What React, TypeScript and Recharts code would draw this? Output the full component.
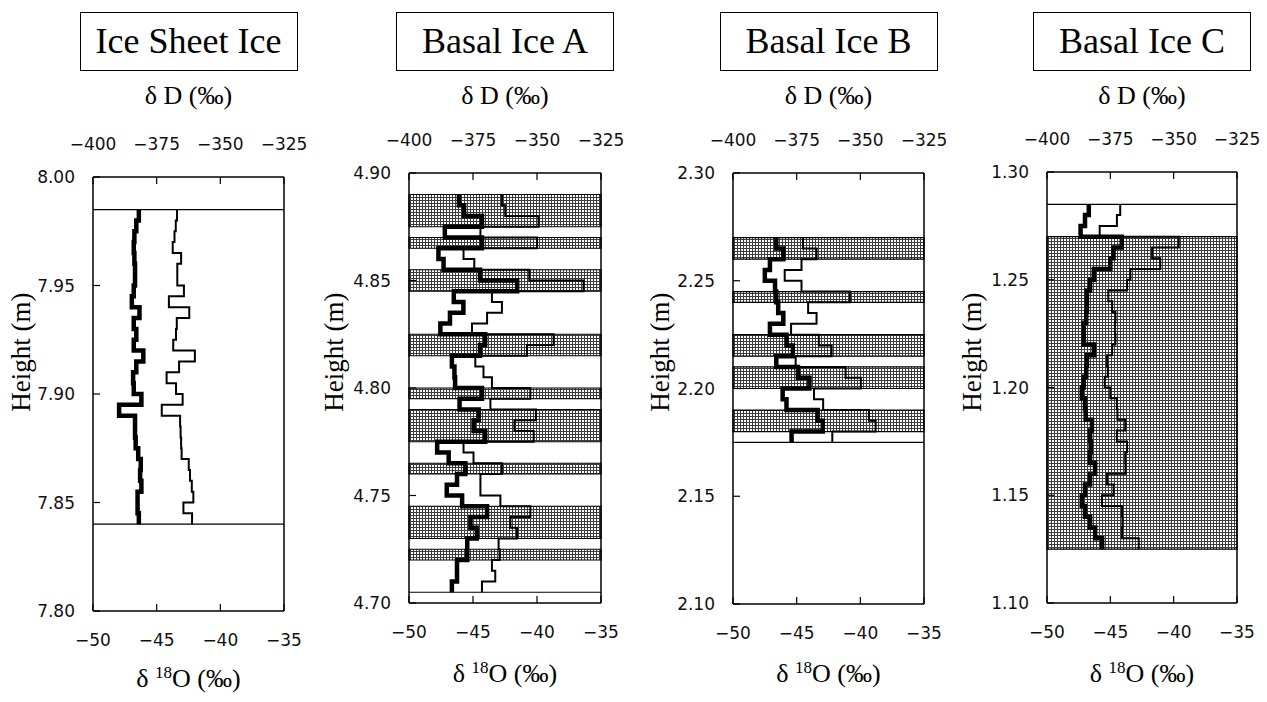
import React from 'react';
import {
  ComposedChart,
  Line,
  XAxis,
  YAxis,
  ReferenceArea,
  ReferenceLine,
} from 'recharts';

const serif = "'Liberation Serif', 'Times New Roman', serif";
const sans = "'DejaVu Sans', 'Liberation Sans', Arial, sans-serif";

const o18Ticks = [-50, -45, -40, -35];
const dDTicks = [-400, -375, -350, -325];

// Ice Sheet Ice
const sheetDepths = [
  7.985, 7.98, 7.975, 7.97, 7.965, 7.96, 7.955, 7.95, 7.945, 7.94, 7.935, 7.93,
  7.925, 7.92, 7.915, 7.91, 7.905, 7.9, 7.895, 7.89, 7.885, 7.88, 7.875, 7.87,
  7.865, 7.86, 7.855, 7.85, 7.845, 7.84,
];
const sheetO18 = [
  -46.4, -46.6, -46.75, -46.8, -46.75, -46.7, -46.7, -46.8, -46.95, -46.35,
  -46.8, -46.6, -46.8, -46.05, -46.6, -46.85, -46.8, -46.2, -47.95, -46.7,
  -46.7, -46.65, -46.45, -46.25, -46.3, -46.2, -46.5, -46.5, -46.4,
];
const sheetDD = [
  -367, -367.5, -368, -368.7, -365.4, -366.9, -366.9, -364.3, -370.2, -362.2,
  -367.1, -367.4, -368.5, -360, -366.2, -371.1, -367.4, -364.8, -373, -365.8,
  -365.6, -365.4, -365.2, -362.4, -361.9, -361.2, -360.6, -364.5, -361.1,
];
const sheetBands: number[][] = [];
const sheetLines = [7.985, 7.84];
const sheetTicks = [7.8, 7.85, 7.9, 7.95, 8.0];

// Basal Ice A
const aDepths = [
  4.89, 4.885, 4.88, 4.875, 4.87, 4.865, 4.86, 4.855, 4.85, 4.845, 4.84, 4.835,
  4.83, 4.825, 4.82, 4.815, 4.81, 4.805, 4.8, 4.795, 4.79, 4.785, 4.78, 4.775,
  4.77, 4.765, 4.76, 4.755, 4.75, 4.745, 4.74, 4.735, 4.73, 4.725, 4.72, 4.715,
  4.71, 4.705,
];
const aO18 = [
  -46.1, -45.7, -44.3, -47.2, -44.3, -47.7, -47.3, -44.45, -41.55, -46.5,
  -45.75, -46.8, -47.55, -44.05, -44.45, -46.65, -46.45, -46.4, -44.3, -46.05,
  -44.55, -44.95, -44.05, -47.8, -46.9, -45.6, -46.25, -47.05, -45.85, -43.9,
  -45.2, -44.7, -45.45, -45.45, -46.25, -46.25, -46.65,
];
const aDD = [
  -363.7, -362.4, -349.4, -372.1, -350, -378.7, -374.5, -353, -331.8, -367.6,
  -363.7, -369.5, -375.4, -343.5, -353.9, -374.1, -370.9, -367.6, -352.6,
  -368.2, -350.4, -358.8, -351.3, -378.7, -374.8, -363.7, -372.1, -372.1,
  -364.3, -352.6, -360.4, -357.8, -365, -364.6, -367.6, -366.3, -371.5,
];
const aBands = [
  [4.89, 4.875], [4.87, 4.865], [4.855, 4.845], [4.825, 4.815], [4.8, 4.795],
  [4.79, 4.775], [4.765, 4.76], [4.745, 4.73], [4.725, 4.72],
];
const aLines = [4.705];
const aTicks = [4.7, 4.75, 4.8, 4.85, 4.9];

// Basal Ice B
const bDepths = [
  2.27, 2.265, 2.26, 2.255, 2.25, 2.245, 2.24, 2.235, 2.23, 2.225, 2.22, 2.215,
  2.21, 2.205, 2.2, 2.195, 2.19, 2.185, 2.18, 2.175,
];
const bO18 = [
  -46.6, -46.05, -47.1, -47.5, -46.7, -46.6, -46.45, -46.05, -47.1, -45.8,
  -45.3, -46.6, -44.9, -44.0, -46.1, -45.8, -43.35, -42.95, -45.4,
];
const bDD = [
  -372.5, -367.2, -373.1, -379.7, -373.1, -354.1, -370.5, -367.2, -377.2,
  -366.3, -361.3, -375.4, -355.8, -349.8, -368.2, -364.6, -346.6, -344, -361,
];
const bBands = [[2.27, 2.26], [2.245, 2.24], [2.225, 2.215], [2.21, 2.2], [2.19, 2.18]];
const bLines = [2.175];
const bTicks = [2.1, 2.15, 2.2, 2.25, 2.3];

// Basal Ice C
const cDepths = [
  1.285, 1.28, 1.275, 1.27, 1.265, 1.26, 1.255, 1.25, 1.245, 1.24, 1.235, 1.23,
  1.225, 1.22, 1.215, 1.21, 1.205, 1.2, 1.195, 1.19, 1.185, 1.18, 1.175, 1.17,
  1.165, 1.16, 1.155, 1.15, 1.145, 1.14, 1.135, 1.13, 1.125,
];
const cO18 = [
  -46.7, -47.0, -47.35, -44.1, -44.75, -45.0, -46.3, -46.6, -46.85, -46.85,
  -46.9, -47.1, -47.1, -46.3, -46.85, -46.9, -47.1, -47.25, -47.0, -46.95,
  -46.45, -46.6, -46.55, -46.6, -46.2, -46.6, -47.0, -47.25, -47.0, -46.6,
  -46.2, -45.65,
];
const cDD = [
  -371.1, -372.4, -379.2, -348, -358.5, -355.3, -367.1, -368.4, -375.8, -374.3,
  -373, -373.2, -373, -374.3, -376.3, -376, -377.2, -375, -372.4, -372.2,
  -369.1, -372.4, -368.4, -369.1, -369, -376.3, -373.7, -378.3, -370.4,
  -370.2, -370.4, -363.8,
];
const cBands = [[1.27, 1.125]];
const cLines = [1.285];
const cTicks = [1.1, 1.15, 1.2, 1.25, 1.3];

const panels = [
  { title: 'Ice Sheet Ice', depths: sheetDepths, o18: sheetO18, dD: sheetDD, bands: sheetBands, lines: sheetLines, ticks: sheetTicks },
  { title: 'Basal Ice A', depths: aDepths, o18: aO18, dD: aDD, bands: aBands, lines: aLines, ticks: aTicks },
  { title: 'Basal Ice B', depths: bDepths, o18: bO18, dD: bDD, bands: bBands, lines: bLines, ticks: bTicks },
  { title: 'Basal Ice C', depths: cDepths, o18: cO18, dD: cDD, bands: cBands, lines: cLines, ticks: cTicks },
];

// plot frames on the page
const frames = [
  { left: 93, top: 177, right: 284, bottom: 611, labelY: 679, hx: 21 },
  { left: 409, top: 173, right: 601, bottom: 603, labelY: 674, hx: 334 },
  { left: 733, top: 173, right: 924, bottom: 604, labelY: 674, hx: 660 },
  { left: 1047, top: 172, right: 1237, bottom: 603, labelY: 674, hx: 972 },
];

// each sample is a constant value over its depth interval
const toSteps = (depths: number[], o18: number[], dD: number[]) =>
  o18.flatMap((v, i) => [
    { h: depths[i], o18: v, dD: dD[i] },
    { h: depths[i + 1], o18: v, dD: dD[i] },
  ]);

const minus = (v: number) => String(v).replace('-', '\u2212');
const tickStyle = { fontSize: 17, fill: '#111', fontFamily: sans };

type PanelProps = { p: (typeof panels)[number]; f: (typeof frames)[number]; idx: number };

const Panel = ({ p, f, idx }: PanelProps) => {
  const w = f.right - f.left;
  const h = f.bottom - f.top;
  const cx = (f.left + f.right) / 2;
  const rows = toSteps(p.depths, p.o18, p.dD);
  const pid = `stipple-${idx}`;
  const lo = p.ticks[0];
  const hi = p.ticks[p.ticks.length - 1];

  return (
    <>
      <div
        style={{
          position: 'absolute', left: cx - 109, top: 12, width: 218, height: 59,
          boxSizing: 'border-box', border: '1.5px solid #000', textAlign: 'center',
          fontFamily: serif, fontSize: 36, lineHeight: '56px', whiteSpace: 'nowrap',
        }}>
        {p.title}
      </div>
      <div
        style={{
          position: 'absolute', left: cx - 100, top: 81, width: 200, height: 30,
          textAlign: 'center', fontFamily: serif, fontSize: 26, lineHeight: '30px',
        }}>
        δ D (‰)
      </div>
      <div
        style={{
          position: 'absolute', left: f.hx - 100, top: 352 - 17, width: 200, height: 34,
          textAlign: 'center', fontFamily: serif, fontSize: 27, lineHeight: '34px',
          transform: 'rotate(-90deg)', whiteSpace: 'nowrap',
        }}>
        Height (m)
      </div>
      <div
        style={{
          position: 'absolute', left: cx - 100, top: f.labelY - 15, width: 200, height: 30,
          textAlign: 'center', fontFamily: serif, fontSize: 26, lineHeight: '30px',
          whiteSpace: 'nowrap',
        }}>
        δ <span style={{ fontSize: 17, position: 'relative', top: -9 }}>18</span>O (‰)
      </div>
      <div style={{ position: 'absolute', left: f.left - 80, top: f.top - 60 }}>
        <ComposedChart
          width={w + 115}
          height={h + 120}
          layout="vertical"
          data={rows}
          margin={{ top: 20, right: 35, bottom: 20, left: 20 }}>
          <defs>
            <pattern id={pid} width="3" height="3" patternUnits="userSpaceOnUse">
              <rect width="3" height="3" fill="#fff" />
              <rect width="3" height="1" fill="#3c3c3c" />
              <rect width="1" height="3" fill="#3c3c3c" />
            </pattern>
          </defs>
          <XAxis
            xAxisId="o"
            type="number"
            orientation="bottom"
            domain={[-50, -35]}
            ticks={o18Ticks}
            interval={0}
            allowDataOverflow
            height={40}
            tickSize={-7}
            tickMargin={30}
            tickFormatter={minus}
            tick={tickStyle}
            axisLine={{ stroke: '#000', strokeWidth: 1.5 }}
            tickLine={{ stroke: '#000', strokeWidth: 1.2 }}
          />
          <XAxis
            xAxisId="d"
            type="number"
            orientation="top"
            domain={[-400, -325]}
            ticks={dDTicks}
            interval={0}
            allowDataOverflow
            height={40}
            tickSize={-7}
            tickMargin={34}
            tickFormatter={minus}
            tick={tickStyle}
            axisLine={{ stroke: '#000', strokeWidth: 1.5 }}
            tickLine={{ stroke: '#000', strokeWidth: 1.2 }}
          />
          <YAxis
            type="number"
            dataKey="h"
            domain={[lo, hi]}
            ticks={p.ticks}
            interval={0}
            reversed
            allowDataOverflow
            width={60}
            tickSize={-7}
            tickMargin={25}
            tickFormatter={(v: number) => v.toFixed(2)}
            tick={tickStyle}
            axisLine={{ stroke: '#000', strokeWidth: 1.5 }}
            tickLine={{ stroke: '#000', strokeWidth: 1.2 }}
          />
          {p.bands.map(([y1, y2]) => (
            <ReferenceArea
              key={`b${y1}`}
              xAxisId="o"
              x1={-50}
              x2={-35}
              y1={y2}
              y2={y1}
              fill={`url(#${pid})`}
              fillOpacity={1}
              stroke="#000"
              strokeWidth={1.2}
            />
          ))}
          {p.lines.map((y) => (
            <ReferenceLine key={`l${y}`} xAxisId="o" y={y} stroke="#000" strokeWidth={1.2} />
          ))}
          <ReferenceLine xAxisId="o" x={-35} stroke="#000" strokeWidth={1.5} />
          <Line
            xAxisId="d"
            dataKey="dD"
            type="linear"
            stroke="#000"
            strokeWidth={2}
            dot={false}
            activeDot={false}
            isAnimationActive={false}
          />
          <Line
            xAxisId="o"
            dataKey="o18"
            type="linear"
            stroke="#000"
            strokeWidth={4.5}
            dot={false}
            activeDot={false}
            isAnimationActive={false}
          />
        </ComposedChart>
      </div>
    </>
  );
};

const App = () => (
  <div style={{ position: 'absolute', left: 0, top: 0, width: 1267, height: 702, background: '#fff' }}>
    {panels.map((p, i) => (
      <Panel key={p.title} p={p} f={frames[i]} idx={i} />
    ))}
  </div>
);

export default App;
